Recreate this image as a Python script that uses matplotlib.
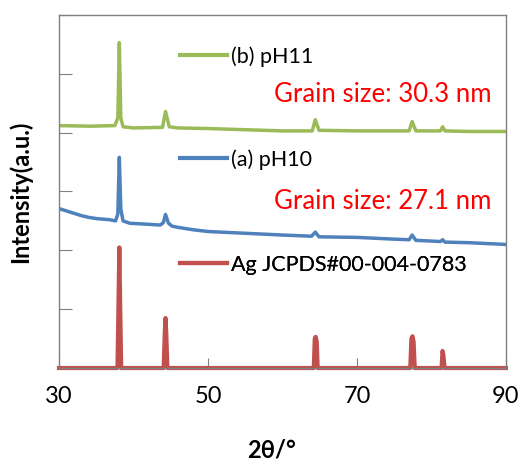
import matplotlib
matplotlib.use("Agg")
import matplotlib.pyplot as plt
from matplotlib.lines import Line2D

plt.rcParams['font.family'] = ['Lato', 'DejaVu Sans']

# Ag reference pattern (JCPDS#00-004-0783)
ref_x = [30, 37.85, 38.0, 38.1, 38.2, 38.35, 44.05, 44.2, 44.3, 44.4, 44.55,
         64.2, 64.33, 64.45, 64.6, 64.72, 77.15, 77.3, 77.45, 77.6, 77.75,
         81.35, 81.48, 81.6, 81.75, 90]
ref_y = [0, 0, 1.2, 2.05, 1.2, 0, 0, 0.6, 0.85, 0.6, 0,
         0, 0.5, 0.53, 0.45, 0, 0, 0.5, 0.54, 0.45, 0,
         0, 0.29, 0.22, 0, 0]

# (a) pH10
a_x = [30, 31, 32, 33, 34, 35, 36.8, 37.6, 37.9, 38.1, 38.3, 38.6, 39.5, 41,
       43.6, 44.0, 44.3, 44.7, 45.2, 46, 48, 50, 55, 60, 63.9, 64.4, 64.9, 70,
       75, 77.0, 77.4, 77.9, 81.2, 81.5, 81.8, 85, 90]
a_y = [2.71, 2.67, 2.63, 2.59, 2.56, 2.54, 2.52, 2.50, 2.62, 3.58, 2.70, 2.50,
       2.46, 2.45, 2.43, 2.47, 2.61, 2.46, 2.41, 2.39, 2.35, 2.32, 2.29, 2.26,
       2.24, 2.31, 2.23, 2.22, 2.19, 2.18, 2.26, 2.17, 2.15, 2.18, 2.14, 2.13,
       2.10]

# (b) pH11
b_x = [30, 34.2, 37.5, 37.9, 38.1, 38.3, 38.6, 40, 43.9, 44.3, 44.8, 46, 50,
       60, 64.0, 64.4, 64.9, 70, 77.0, 77.4, 77.9, 81.2, 81.5, 81.8, 85, 90]
b_y = [4.12, 4.11, 4.12, 4.25, 5.53, 4.25, 4.10, 4.08, 4.09, 4.36, 4.10, 4.08,
       4.07, 4.03, 4.03, 4.22, 4.04, 4.03, 4.03, 4.19, 4.03, 4.03, 4.10, 4.03,
       4.02, 4.02]

red = '#c0504d'
blue = '#4f81bd'
green = '#9bbb59'

fig = plt.figure(figsize=(5.21, 4.61), dpi=100)
ax = fig.add_axes([0.1132, 0.2017, 0.8580, 0.7658])

ax.plot(ref_x, ref_y, color=red, lw=3, solid_joinstyle='round', clip_on=False)
ax.plot(a_x, a_y, color=blue, lw=2.5, solid_joinstyle='round')
ax.plot(b_x, b_y, color=green, lw=2.5, solid_joinstyle='round')

ax.set_xlim(30, 90)
ax.set_ylim(0, 6)
ax.set_xticks([30, 50, 70, 90])
ax.set_yticks(range(0, 7))
ax.set_yticklabels([])
ax.tick_params(axis='y', direction='in', length=9, color='#808080')
ax.tick_params(axis='x', direction='in', length=7, color='#808080',
               labelsize=17, pad=13)
for s in ax.spines.values():
    s.set_color('#808080')
    s.set_linewidth(1)

ax.set_xlabel('2θ/°', fontsize=17, fontweight='bold')
ax.xaxis.set_label_coords(0.475, -0.2)
ax.set_ylabel('Intensity(a.u.)', fontsize=17, fontweight='bold')
ax.yaxis.set_label_coords(-0.06, 0.5)

# legend entries, one per curve, placed next to each pattern
entries = [(green, '(b) pH11', 0.883), (blue, '(a) pH10', 0.59), (red, 'Ag JCPDS#00-004-0783', 0.292)]
for col, lab, yy in entries:
    h = Line2D([], [], color=col, lw=3)
    leg = ax.legend([h], [lab], loc='center left', bbox_to_anchor=(0.27, yy),
                    frameon=False, fontsize=15.5, handlelength=2.2,
                    handletextpad=0.2, borderpad=0, borderaxespad=0)
    ax.add_artist(leg)

ax.text(0.967, 0.774, 'Grain size: 30.3 nm', color='red', fontsize=18.5,
        ha='right', va='center', transform=ax.transAxes)
ax.text(0.967, 0.472, 'Grain size: 27.1 nm', color='red', fontsize=18.5,
        ha='right', va='center', transform=ax.transAxes)

fig.savefig('out.png', dpi=100)
